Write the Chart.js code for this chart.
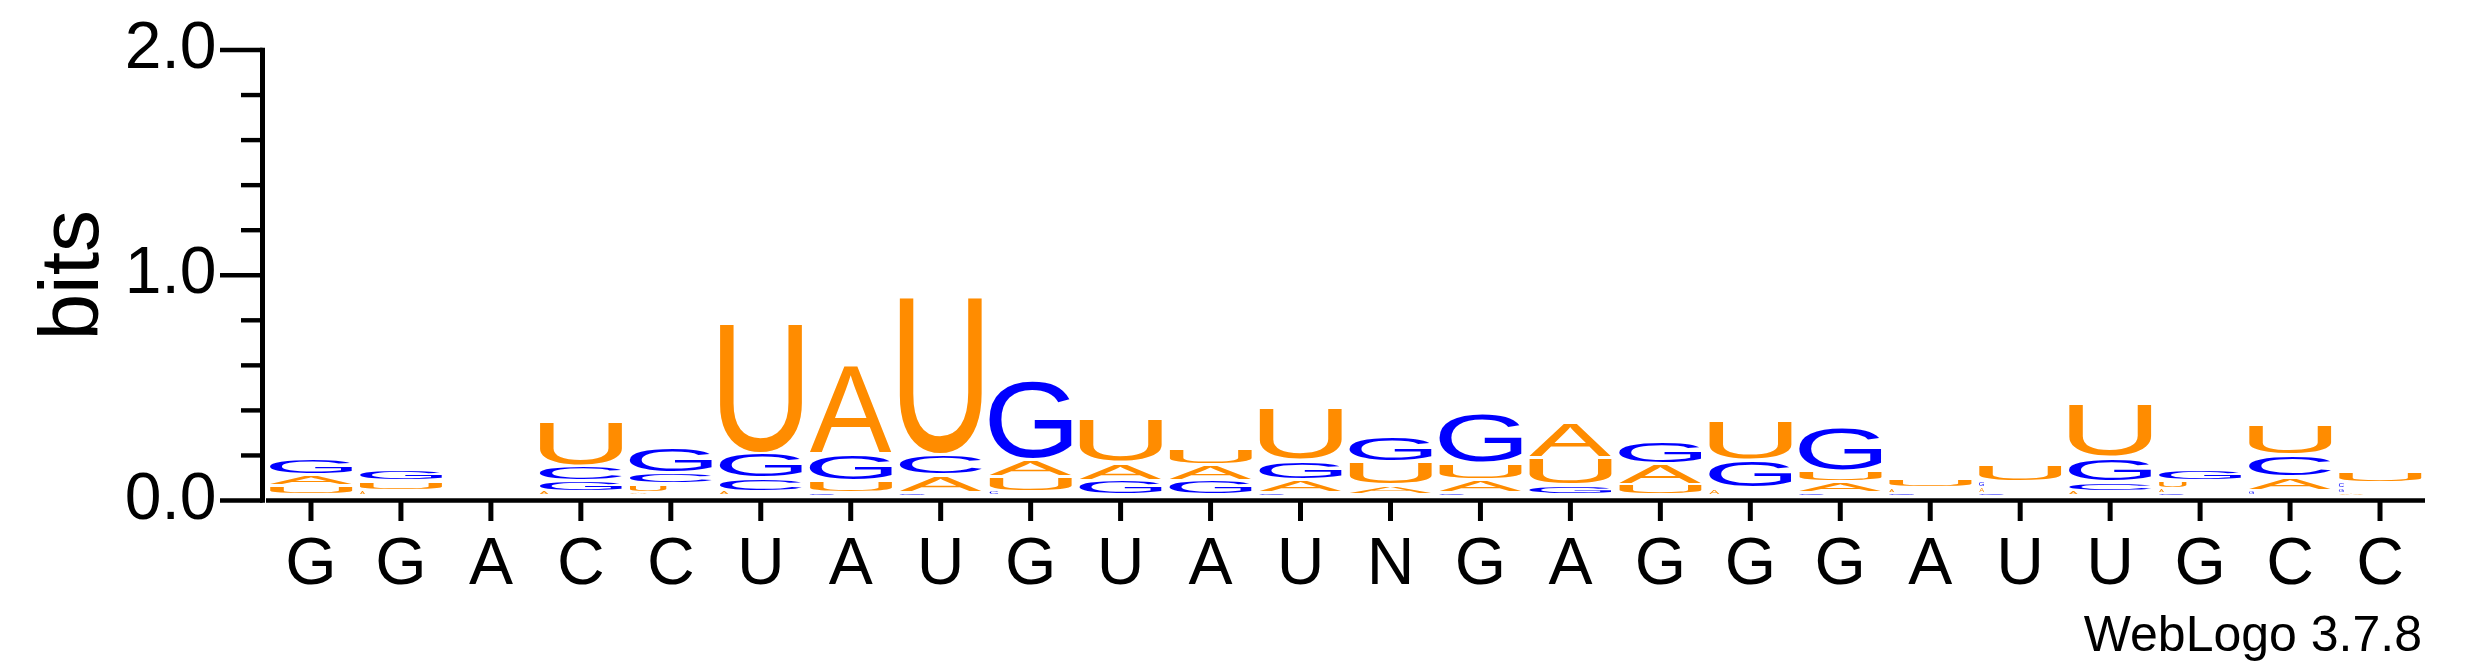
<!DOCTYPE html>
<html>
<head>
<meta charset="utf-8">
<script src="https://cdn.jsdelivr.net/npm/chart.js@4.4.1/dist/chart.umd.min.js"></script>
<style>
  html, body { margin: 0; padding: 0; background: #ffffff; }
  #wrap { width: 2475px; height: 667px; position: relative; }
</style>
</head>
<body>
<div id="wrap"><canvas id="c" width="2475" height="667"></canvas></div>
<script>
// ---- data ----
const positions = ['G','G','A','C','C','U','A','U','G','U','A','U','N','G','A','G','G','G','A','U','U','G','C','C'];
const bitsA = [0.046,0.020,0,0.015,0.012,0.015,0.400,0.077,0.077,0.079,0.071,0.059,0.044,0.059,0.159,0.092,0.030,0.047,0.020,0.025,0.015,0.020,0.062,0.010];
const bitsC = [0,0,0,0.064,0.047,0.059,0.010,0.093,0.015,0,0,0.010,0,0.010,0,0,0,0.010,0,0.010,0.044,0.010,0.096,0.025];
const bitsG = [0.071,0.052,0,0.047,0.114,0.111,0.119,0.010,0.356,0.065,0.065,0.086,0.114,0.225,0.044,0.104,0.126,0.193,0.010,0.025,0.110,0.049,0.020,0.020];
const bitsU = [0.043,0.043,0,0.197,0.037,0.582,0.053,0.700,0.064,0.196,0.074,0.234,0.104,0.071,0.121,0.047,0.178,0.050,0.043,0.077,0.239,0.035,0.133,0.049];
const yTickValues = [0, 0.2, 0.4, 0.6, 0.8, 1.0, 1.2, 1.4, 1.6, 1.8, 2.0];
const yMajorLabels = ['0.0', '1.0', '2.0'];
const letterColors = { A: '#FF8C00', U: '#FF8C00', G: '#0000FF', C: '#0000FF' };
const footerText = 'WebLogo 3.7.8';

// ---- build stacked rank datasets (smallest letter at the bottom) ----
const ranks = [0, 1, 2, 3].map(() => ({ data: [], letters: [] }));
positions.forEach((_, i) => {
  const entries = [['A', bitsA[i]], ['C', bitsC[i]], ['G', bitsG[i]], ['U', bitsU[i]]]
    .filter(e => e[1] > 0)
    .sort((a, b) => a[1] - b[1]);
  for (let r = 0; r < 4; r++) {
    const e = entries[r];
    ranks[r].data.push(e ? e[1] : 0);
    ranks[r].letters.push(e ? e[0] : null);
  }
});
const datasets = ranks.map((r, k) => ({
  label: 'rank' + k,
  data: r.data,
  letters: r.letters,
  backgroundColor: 'rgba(0,0,0,0)',
  borderWidth: 0,
  barPercentage: 0.912,
  categoryPercentage: 1.0
}));

// ---- glyph drawing ----
const FONT = '"Liberation Sans", Arial, Helvetica, sans-serif';
const glyphCache = {};
function glyphBox(letter) {
  if (!glyphCache[letter]) {
    const c = document.createElement('canvas').getContext('2d');
    c.font = '200px ' + FONT;
    const m = c.measureText(letter);
    glyphCache[letter] = { l: m.actualBoundingBoxLeft, r: m.actualBoundingBoxRight,
                           a: m.actualBoundingBoxAscent, d: m.actualBoundingBoxDescent };
  }
  return glyphCache[letter];
}
function drawGlyph(ctx, letter, left, top, w, h, color) {
  const g = glyphBox(letter);
  const gw = g.l + g.r, gh = g.a + g.d;
  ctx.save();
  ctx.translate(left, top);
  ctx.scale(w / gw, h / gh);
  ctx.font = '200px ' + FONT;
  ctx.fillStyle = color;
  ctx.textAlign = 'left';
  ctx.textBaseline = 'alphabetic';
  ctx.fillText(letter, g.l, g.a);
  ctx.restore();
}

const logoPlugin = {
  id: 'logoLetters',
  afterDatasetsDraw(chart) {
    const ctx = chart.ctx;
    const lift = 5.5;
    chart.data.datasets.forEach((ds, di) => {
      const meta = chart.getDatasetMeta(di);
      meta.data.forEach((bar, i) => {
        const letter = ds.letters[i];
        if (!letter) return;
        const p = bar.getProps(['x', 'y', 'base', 'width'], true);
        const boxTop = Math.min(p.y, p.base) - lift;
        const boxBot = Math.max(p.y, p.base) - lift;
        const bh = boxBot - boxTop;
        const pad = Math.min(1.67, bh * 0.2);
        const v = bh - 2 * pad;
        if (v <= 0.3) return;
        const frac = v >= 6 ? 1 : Math.max(0.06, Math.pow((v - 3) / 3, 2));
        const left = p.x - p.width / 2;
        drawGlyph(ctx, letter, left, boxTop + pad, p.width * frac, v, letterColors[letter]);
      });
    });
  }
};

const axesPlugin = {
  id: 'logoAxes',
  afterDraw(chart) {
    const ctx = chart.ctx;
    const ys = chart.scales.y, xs = chart.scales.x;
    const area = chart.chartArea;
    ctx.save();
    ctx.strokeStyle = '#000';
    ctx.lineCap = 'butt';
    // y axis line
    const ax = area.left - 3.5;
    ctx.lineWidth = 5;
    ctx.beginPath();
    ctx.moveTo(ax, ys.getPixelForValue(2) - 2.2);
    ctx.lineTo(ax, ys.getPixelForValue(0) + 2.2);
    ctx.stroke();
    // y ticks
    ctx.lineWidth = 4.4;
    ys.ticks.forEach(t => {
      const py = ys.getPixelForValue(t.value);
      const major = Math.abs(t.value - Math.round(t.value)) < 1e-6;
      ctx.beginPath();
      ctx.moveTo(ax - (major ? 42.5 : 21.5), py);
      ctx.lineTo(ax, py);
      ctx.stroke();
    });
    // x axis line
    const y0 = ys.getPixelForValue(0);
    ctx.lineWidth = 4.4;
    ctx.beginPath();
    ctx.moveTo(area.left, y0);
    ctx.lineTo(area.right, y0);
    ctx.stroke();
    // x ticks
    ctx.lineWidth = 5;
    xs.ticks.forEach((t, i) => {
      const px = xs.getPixelForTick(i);
      ctx.beginPath();
      ctx.moveTo(px, y0);
      ctx.lineTo(px, y0 + 20.5);
      ctx.stroke();
    });
    // footer
    ctx.fillStyle = '#000';
    ctx.font = '50px ' + FONT;
    ctx.textAlign = 'right';
    ctx.textBaseline = 'alphabetic';
    ctx.fillText(footerText, area.right - 3, 651);
    ctx.restore();
  }
};

new Chart(document.getElementById('c'), {
  type: 'bar',
  data: { labels: positions, datasets },
  options: {
    responsive: false,
    animation: false,
    devicePixelRatio: 1,
    layout: { padding: { top: 50, right: 50, left: 0, bottom: 0 } },
    plugins: { legend: { display: false }, tooltip: { enabled: false }, title: { display: false } },
    scales: {
      x: {
        stacked: true,
        offset: true,
        grid: { display: false, drawTicks: false },
        border: { display: false },
        ticks: {
          autoSkip: false, maxRotation: 0, minRotation: 0,
          color: '#000', padding: 25.5,
          font: { family: FONT, size: 66 }
        },
        afterFit(scale) { scale.height = 166.5; }
      },
      y: {
        stacked: true,
        min: 0, max: 2,
        grid: { display: false, drawTicks: false },
        border: { display: false },
        afterBuildTicks(scale) { scale.ticks = yTickValues.map(v => ({ value: v })); },
        ticks: {
          autoSkip: false,
          color: '#000', padding: 49.5,
          font: { family: FONT, size: 66 },
          callback(v) {
            const s = Number(v).toFixed(1);
            return yMajorLabels.includes(s) ? s : '';
          }
        },
        title: {
          display: true, text: 'bits', color: '#000',
          font: { family: FONT, size: 84 },
          padding: { top: 24, bottom: 0 }
        },
        afterFit(scale) {
          scale.width = 266;
          scale.paddingTop = 0;
          scale.paddingBottom = 0;
        }
      }
    }
  },
  plugins: [logoPlugin, axesPlugin]
});
</script>
</body>
</html>
